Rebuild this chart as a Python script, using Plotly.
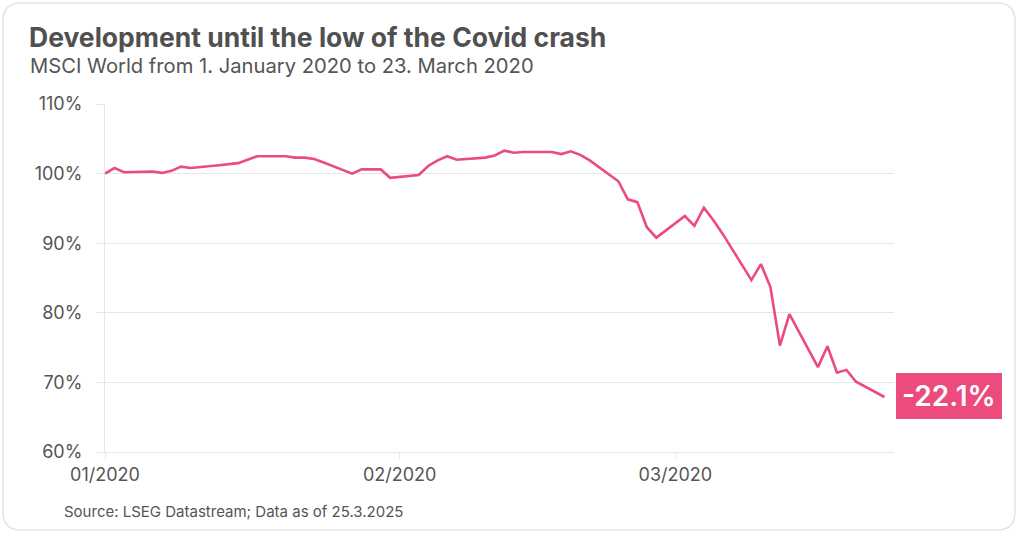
import plotly.graph_objects as go

dates = ["2020-01-01","2020-01-02","2020-01-03","2020-01-06","2020-01-07","2020-01-08","2020-01-09","2020-01-10",
         "2020-01-13","2020-01-14","2020-01-15","2020-01-16","2020-01-17","2020-01-20","2020-01-21","2020-01-22",
         "2020-01-23","2020-01-24","2020-01-27","2020-01-28","2020-01-29","2020-01-30","2020-01-31",
         "2020-02-03","2020-02-04","2020-02-05","2020-02-06","2020-02-07","2020-02-10","2020-02-11","2020-02-12",
         "2020-02-13","2020-02-14","2020-02-17","2020-02-18","2020-02-19","2020-02-20","2020-02-21","2020-02-24",
         "2020-02-25","2020-02-26","2020-02-27","2020-02-28",
         "2020-03-02","2020-03-03","2020-03-04","2020-03-05","2020-03-06","2020-03-09","2020-03-10","2020-03-11",
         "2020-03-12","2020-03-13","2020-03-16","2020-03-17","2020-03-18","2020-03-19","2020-03-20","2020-03-23"]
values = [100.0, 100.8, 100.2, 100.3, 100.1, 100.4, 101.0, 100.8,
          101.2, 101.4, 101.5, 102.0, 102.5, 102.5, 102.3, 102.3,
          102.1, 101.6, 100.0, 100.6, 100.6, 100.6, 99.4,
          99.8, 101.1, 101.9, 102.5, 102.0, 102.3, 102.6, 103.3,
          103.0, 103.1, 103.1, 102.8, 103.2, 102.7, 101.9, 98.9,
          96.3, 95.9, 92.3, 90.8,
          93.9, 92.5, 95.1, 93.3, 91.3, 84.7, 87.0, 83.7,
          75.3, 79.8, 72.2, 75.2, 71.4, 71.8, 70.1, 67.9]

x_ticks = ["2020-01-01", "2020-02-01", "2020-03-01"]
y_ticks = [60, 70, 80, 90, 100, 110]
y_tick_labels = ["60%", "70%", "80%", "90%", "100%", "110%"]
end_label = "-22.1%"

title = "<b>Development until the low of the Covid crash</b>"
subtitle = "MSCI World from 1. January 2020 to 23. March 2020"
source = "Source: LSEG Datastream; Data as of 25.3.2025"

PINK = "#EB4C7D"
GRID = "#E6E6E6"
TEXT = "#555555"
FONT = "Inter"

W, H = 1024, 534
ML, MR, MT, MB = 105, 130, 104, 82
PW, PH = W - ML - MR, H - MT - MB


def px(x):
    return (x - ML) / PW


def py(y):
    return (H - MB - y) / PH


fig = go.Figure()
fig.add_trace(go.Scatter(x=dates, y=values, mode="lines",
                         line=dict(color=PINK, width=2.6), hoverinfo="skip",
                         cliponaxis=False))

fig.update_layout(
    width=W, height=H,
    margin=dict(l=ML, r=MR, t=MT, b=MB),
    paper_bgcolor="white", plot_bgcolor="white",
    showlegend=False,
    font=dict(family=FONT, color=TEXT),
    xaxis=dict(type="date", range=["2020-01-01", "2020-03-24"],
               tickvals=x_ticks, tickformat="%m/%Y",
               showgrid=False, showline=True, linecolor=GRID, linewidth=1,
               ticks="outside", ticklen=6, tickcolor=GRID,
               tickfont=dict(size=18, color=TEXT, family=FONT), zeroline=False),
    yaxis=dict(range=[60, 110], tickmode="array", tickvals=y_ticks, ticktext=y_tick_labels,
               showgrid=True, gridcolor=GRID, gridwidth=1,
               showline=True, linecolor=GRID, linewidth=1,
               ticks="outside", ticklen=8, tickcolor=GRID,
               ticklabelstandoff=10,
               tickfont=dict(size=18, color=TEXT, family=FONT), zeroline=False),
)

# card border (rounded rectangle)
l, r, t, b, rad = 3, 1015, 3, 530, 18
path = (f"M {px(l+rad)},{py(t)} L {px(r-rad)},{py(t)} Q {px(r)},{py(t)} {px(r)},{py(t+rad)} "
        f"L {px(r)},{py(b-rad)} Q {px(r)},{py(b)} {px(r-rad)},{py(b)} "
        f"L {px(l+rad)},{py(b)} Q {px(l)},{py(b)} {px(l)},{py(b-rad)} "
        f"L {px(l)},{py(t+rad)} Q {px(l)},{py(t)} {px(l+rad)},{py(t)} Z")
fig.add_shape(type="path", xref="paper", yref="paper", path=path,
              line=dict(color="#E4E4E4", width=1.5), layer="below")

fig.add_annotation(xref="paper", yref="paper", x=px(27), y=py(37), xanchor="left", yanchor="middle",
                   text=title, showarrow=False, font=dict(size=26.5, color="#505050", family=FONT))
fig.add_annotation(xref="paper", yref="paper", x=px(28), y=py(66), xanchor="left", yanchor="middle",
                   text=subtitle, showarrow=False, font=dict(size=20.2, color=TEXT, family=FONT))
fig.add_annotation(xref="paper", yref="paper", x=px(62), y=py(511), xanchor="left", yanchor="middle",
                   text=source, showarrow=False, font=dict(size=15, color=TEXT, family=FONT))

# end label
fig.add_annotation(x=dates[-1], y=values[-1], xref="x", yref="y", xanchor="left", yanchor="middle",
                   xshift=12, yshift=1, text=end_label, showarrow=False,
                   bgcolor=PINK, bordercolor=PINK, borderwidth=1, borderpad=5,
                   font=dict(size=28, color="white", family=FONT, weight=600))

fig.write_html("out.html", config={"displayModeBar": False},
               post_script="document.body.style.margin='0';")
